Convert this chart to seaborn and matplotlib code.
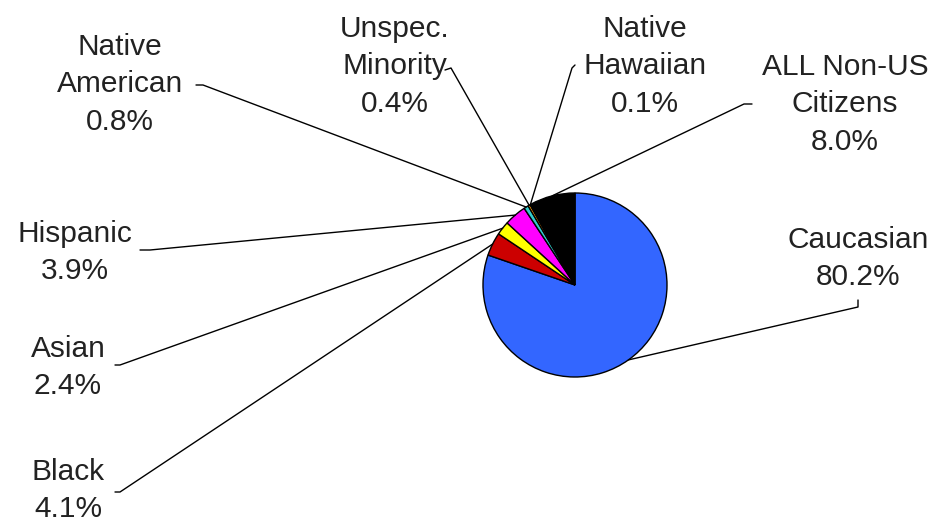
import numpy as np
import matplotlib
matplotlib.use("Agg")
import matplotlib.pyplot as plt
import seaborn as sns

# datos del grafico
groups = ["Caucasian", "Black", "Asian", "Hispanic", "Native American",
          "Unspec. Minority", "Native Hawaiian", "ALL Non-US Citizens"]
label_lines = ["Caucasian", "Black", "Asian", "Hispanic", "Native\nAmerican",
               "Unspec.\nMinority", "Native\nHawaiian", "ALL Non-US\nCitizens"]
percent = [80.2, 4.1, 2.4, 3.9, 0.8, 0.4, 0.1, 8.0]
colors = ["#3366FF", "#CC0000", "#FFFF00", "#FF00FF", "#33CCCC",
          "#FF9900", "#008080", "#000000"]

sns.set_style("white")
plt.rcParams['font.family'] = ['Liberation Sans', 'DejaVu Sans']

fig = plt.figure(figsize=(9.36, 5.29), dpi=100)
ax = fig.add_axes([0, 0, 1, 1])

cx, cy, r = 575, 285, 92
wedges, _ = ax.pie(percent, colors=colors, startangle=-90, counterclock=True,
                   center=(cx, cy), radius=r,
                   wedgeprops=dict(edgecolor="black", linewidth=1.0))
ax.set_xlim(0, 936)
ax.set_ylim(529, 0)
ax.set_aspect('equal')
ax.axis('off')

# posicion del texto (centro, y de la primera linea), inicio del conector y quiebre
layout = {
    "Caucasian":          ((858, 238), (858, 300), (858, 307)),
    "Black":              ((68, 470), (115, 492), (120, 492)),
    "Asian":              ((68, 347), (115, 365), (120, 365)),
    "Hispanic":           ((75, 232), (140, 250), (150, 250)),
    "Native American":    ((120, 45), (196, 85), (203, 85)),
    "Unspec. Minority":   ((395, 27), (445, 70), (451, 68)),
    "Native Hawaiian":    ((645, 27), (575, 65), (572, 68)),
    "ALL Non-US Citizens": ((845, 65), (752, 104), (744, 104)),
}

for w, g, lab, p in zip(wedges, groups, label_lines, percent):
    (tx, ty), start, kink = layout[g]
    txt = lab + "\n" + f"{p:.1f}%"
    ax.text(tx, ty - 12, txt, ha="center", va="top", fontsize=21.5,
            color="#222222", linespacing=1.43)
    mid = np.deg2rad((w.theta1 + w.theta2) / 2)
    ex = w.center[0] + w.r * np.cos(mid)
    ey = w.center[1] + w.r * np.sin(mid)
    ax.plot([start[0], kink[0], ex], [start[1], kink[1], ey],
            color="black", linewidth=1.0)

fig.savefig("out.png", dpi=100)
